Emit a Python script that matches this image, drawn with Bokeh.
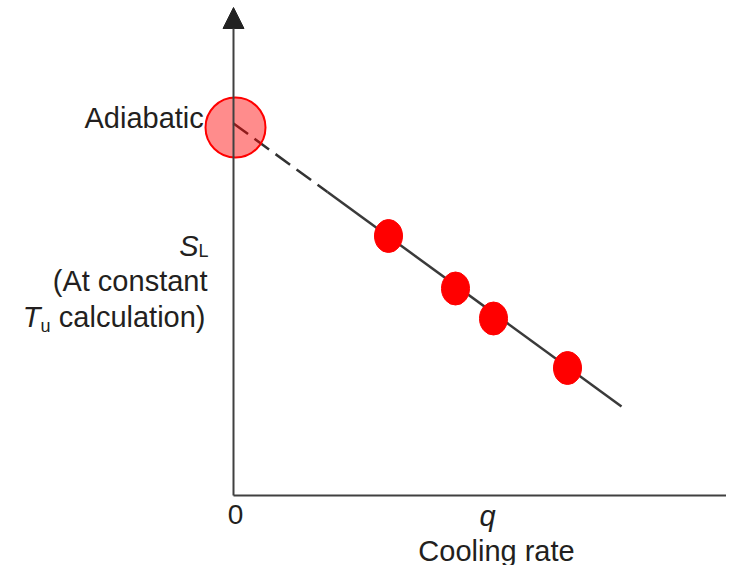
from bokeh.plotting import figure
from bokeh.models import Range1d, Arrow, NormalHead
from bokeh.core.properties import value
from bokeh.embed import file_html
from bokeh.resources import INLINE

# ---- data (screen-like units: 1 unit = 1 px) ----
q_measured = [155, 222, 260, 334]
sl_measured = [259.5, 207, 177, 127.5]
adiabatic_q = [2]
adiabatic_sl = [368]
dashed_q = [0, 94]
dashed_sl = [372, 303.5]
solid_q = [94, 388]
solid_sl = [303.5, 89]

FONT = value("Liberation Sans")
TXT = "#231f20"
AX = "#404040"

p = figure(width=726, height=565, output_backend="svg", toolbar_location=None,
           x_range=Range1d(-233, 493), y_range=Range1d(-70, 495),
           x_axis_type=None, y_axis_type=None, min_border=0,
           background_fill_color="white", border_fill_color="white")
p.grid.visible = False
p.outline_line_color = None

# axes with arrows
p.add_layout(Arrow(x_start=0, y_start=0, x_end=0, y_end=488, line_color=AX, line_width=2,
                   end=NormalHead(size=21, fill_color="#222222", line_color="#222222")))
p.add_layout(Arrow(x_start=0, y_start=0, x_end=522, y_end=0, line_color=AX, line_width=2,
                   end=NormalHead(size=21, fill_color="#222222", line_color="#222222")))

# trend line
p.line(dashed_q, dashed_sl, line_color="#333333", line_width=2.5, line_dash="18 8")
p.line(solid_q, solid_sl, line_color="#3a3a3a", line_width=2.5)

# texts
p.text(x=[-149], y=[378], text=["Adiabatic"], text_font=FONT, text_font_size="29px",
       text_color=TXT, text_align="left", text_baseline="alphabetic")
p.text(x=[2], y=[-9], text=["0"], text_font=FONT, text_font_size="28px",
       text_color=TXT, text_align="center", text_baseline="top")
p.text(x=[254], y=[-20], text=["q"], text_font=FONT, text_font_size="29px",
       text_font_style="italic", text_color=TXT, text_align="center", text_baseline="alphabetic")
p.text(x=[263], y=[-55], text=["Cooling rate"], text_font=FONT, text_font_size="29px",
       text_color=TXT, text_align="center", text_baseline="alphabetic")

# y label
p.text(x=[-35], y=[250], text=["S"], text_font=FONT, text_font_size="29px",
       text_font_style="italic", text_color=TXT, text_align="right", text_baseline="alphabetic")
p.text(x=[-35], y=[245], text=["L"], text_font=FONT, text_font_size="18px",
       text_color=TXT, text_align="left", text_baseline="alphabetic")
p.text(x=[-26], y=[215], text=["(At constant"], text_font=FONT, text_font_size="29px",
       text_color=TXT, text_align="right", text_baseline="alphabetic")
p.text(x=[-28], y=[179], text=["calculation)"], text_font=FONT, text_font_size="29px",
       text_color=TXT, text_align="right", text_baseline="alphabetic")
p.text(x=[-183], y=[170], text=["u"], text_font=FONT, text_font_size="18px",
       text_color=TXT, text_align="right", text_baseline="alphabetic")
p.text(x=[-193], y=[179], text=["T"], text_font=FONT, text_font_size="29px",
       text_font_style="italic", text_color=TXT, text_align="right", text_baseline="alphabetic")

# adiabatic marker and measured points
p.circle(x=adiabatic_q, y=adiabatic_sl, radius=30, fill_color="#ff0000", fill_alpha=0.45,
         line_color="#ff0000", line_width=2)
p.ellipse(x=q_measured, y=sl_measured, width=28, height=33, fill_color="#ff0000",
          line_color="#ff0000")

open("out.html", "w").write(file_html(p, INLINE))
